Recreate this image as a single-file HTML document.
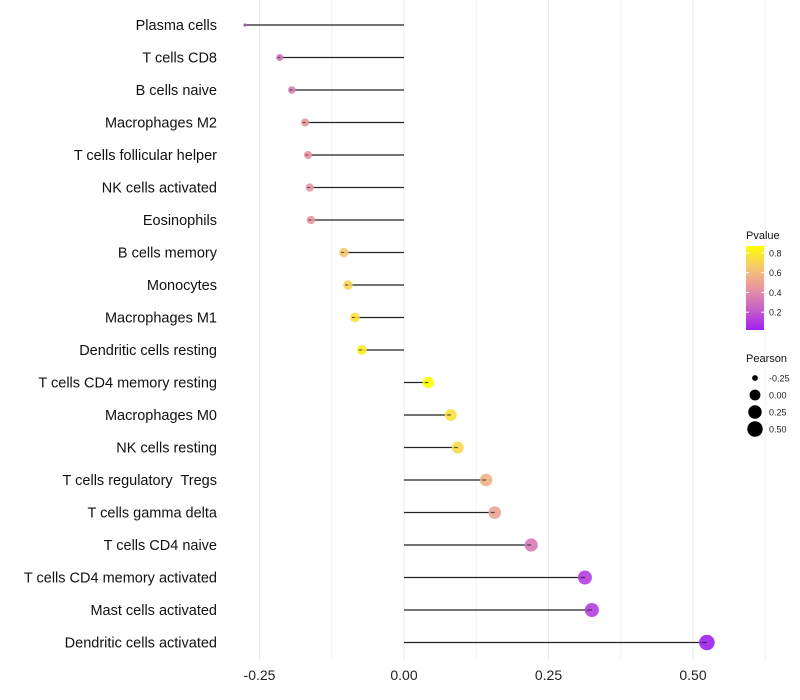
<!DOCTYPE html>
<html><head><meta charset="utf-8"><style>
body{margin:0;background:#fff;}
svg{display:block;font-family:"Liberation Sans",sans-serif;}
text{white-space:pre;}
</style></head><body>
<svg id="c" width="800" height="700"></svg>
<script>
const categories=["Plasma cells","T cells CD8","B cells naive","Macrophages M2","T cells follicular helper","NK cells activated","Eosinophils","B cells memory","Monocytes","Macrophages M1","Dendritic cells resting","T cells CD4 memory resting","Macrophages M0","NK cells resting","T cells regulatory  Tregs","T cells gamma delta","T cells CD4 naive","T cells CD4 memory activated","Mast cells activated","Dendritic cells activated"];
const pearson=[-0.275,-0.215,-0.194,-0.171,-0.166,-0.163,-0.161,-0.104,-0.097,-0.085,-0.073,0.042,0.081,0.093,0.142,0.157,0.220,0.313,0.325,0.524];
const pvalue=[0.2,0.3,0.35,0.45,0.45,0.45,0.45,0.65,0.7,0.75,0.8,0.87,0.75,0.72,0.55,0.5,0.33,0.12,0.12,0.01];
const xTicks=[-0.25,0,0.25,0.5];
const xTickLabels=["-0.25","0.00","0.25","0.50"];
const pvTicks=[0.2,0.4,0.6,0.8];
const sizeTicks=[-0.25,0,0.25,0.5];
const NS="http://www.w3.org/2000/svg";
const svg=document.getElementById('c');
function mk(t,a,p){const e=document.createElementNS(NS,t);for(const k in a)e.setAttribute(k,a[k]);(p||svg).appendChild(e);return e;}
const X=v=>404+v*578;
const Y=i=>25+i*32.5;
const R=v=>1.6+6.2*Math.pow(Math.max(0,v+0.275)/0.8,0.45);
const stops=[[0,[160,32,240]],[0.25,[200,96,200]],[0.5,[232,150,160]],[0.75,[245,200,110]],[1,[255,255,0]]];
function col(p){let t=Math.min(1,Math.max(0,(p-0.02)/0.85));for(let i=1;i<stops.length;i++){if(t<=stops[i][0]){const a=stops[i-1],b=stops[i],f=(t-a[0])/(b[0]-a[0]);const c=a[1].map((v,k)=>Math.round(v+(b[1][k]-v)*f));return `rgb(${c})`;}}return 'rgb(255,255,0)';}
[-0.125,0.125,0.375,0.625].forEach(v=>{const l=mk('line',{x1:X(v),x2:X(v),y1:0,y2:660,stroke:'#f2f2f2','stroke-width':1});});
xTicks.forEach((v,i)=>{const l=mk('line',{x1:X(v),x2:X(v),y1:0,y2:660,stroke:'#ebebeb','stroke-width':1});
const t=mk('text',{x:X(v),y:680,'text-anchor':'middle','font-size':14,fill:'#222'});t.textContent=xTickLabels[i];});
categories.forEach((c,i)=>{const y=Y(i);
const t=mk('text',{x:217,y:y+5,'text-anchor':'end','font-size':14.5,fill:'#111'});t.textContent=c;
const l=mk('line',{x1:X(0),x2:X(pearson[i]),y1:y,y2:y,stroke:'#222','stroke-width':1.2});
const d=mk('circle',{cx:X(pearson[i]),cy:y,r:R(pearson[i]),fill:col(pvalue[i]),'fill-opacity':0.9});
const s=mk('line',{x1:X(pearson[i])-R(pearson[i])*0.6,x2:X(pearson[i]),y1:y,y2:y,stroke:'#222','stroke-width':1.2,'stroke-opacity':0.7});});
const g=mk('g',{});
const tt=mk('text',{x:746,y:239,'font-size':11,fill:'#111'},g);tt.textContent='Pvalue';
const defs=mk('defs',{});const lg=mk('linearGradient',{id:'pg',x1:0,y1:1,x2:0,y2:0},defs);
stops.forEach(s=>mk('stop',{offset:s[0],'stop-color':`rgb(${s[1]})`},lg));
mk('rect',{x:746,y:246,width:18,height:84,fill:'url(#pg)'},g);
const PY=p=>330-(p-0.02)/0.85*84;
pvTicks.forEach(p=>{mk('line',{x1:746,x2:749,y1:PY(p),y2:PY(p),stroke:'#fff'},g);mk('line',{x1:761,x2:764,y1:PY(p),y2:PY(p),stroke:'#fff'},g);const t=mk('text',{x:769,y:PY(p)+3.5,'font-size':9,fill:'#222'},g);t.textContent=p.toFixed(1);});
const g2=mk('g',{});
const t2=mk('text',{x:746,y:362,'font-size':11,fill:'#111'},g2);t2.textContent='Pearson';
sizeTicks.forEach((v,i)=>{const y=378+i*17;mk('circle',{cx:755,cy:y,r:R(v),fill:'#000'},g2);const t=mk('text',{x:769,y:y+3.5,'font-size':9,fill:'#222'},g2);t.textContent=v.toFixed(2);});
</script>
</body></html>
